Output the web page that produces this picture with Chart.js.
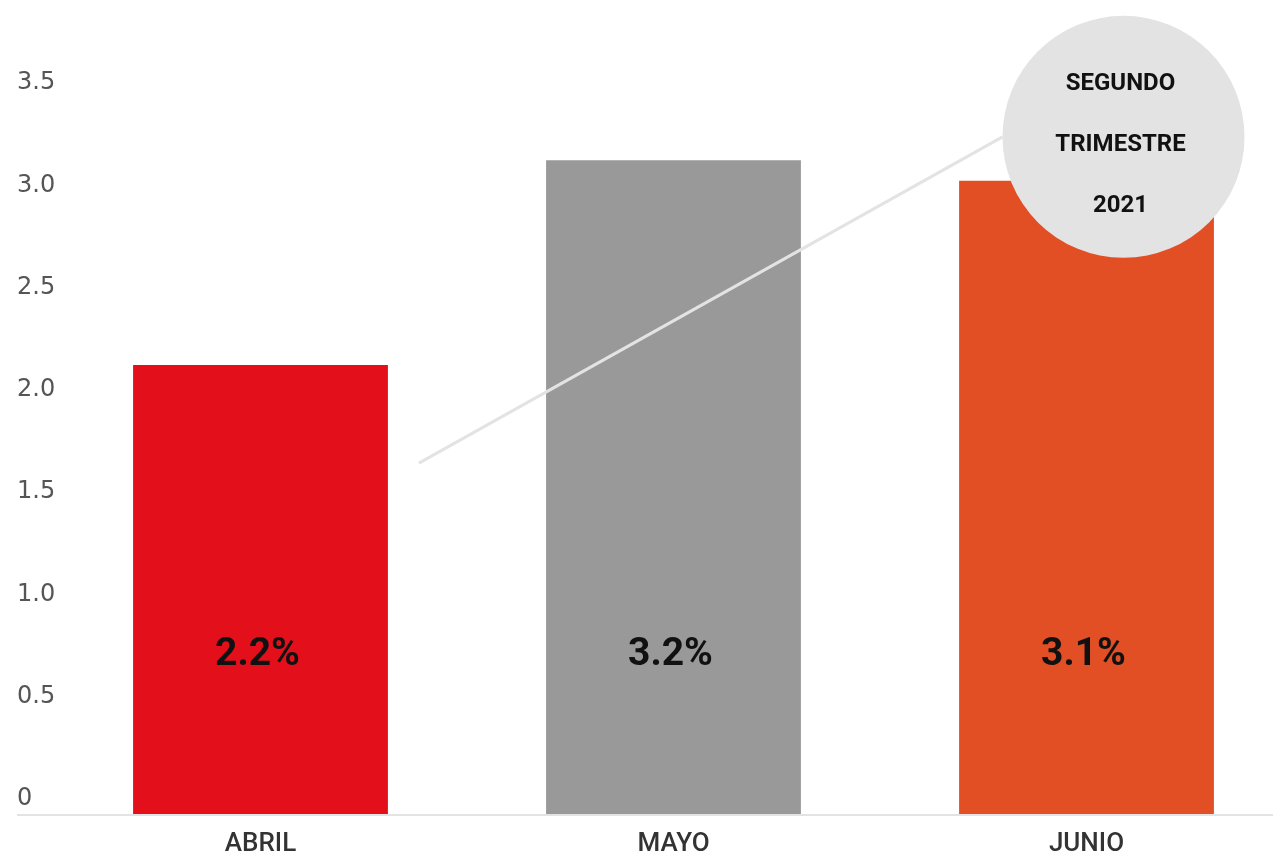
<!DOCTYPE html>
<html lang="es">
<head>
<meta charset="UTF-8">
<title>Segundo trimestre 2021</title>
<script src="https://cdn.jsdelivr.net/npm/chart.js"></script>
<style>
    html, body { margin: 0; padding: 0; background: #fff; overflow: hidden; }
    #caja { width: 1273px; height: 855px; overflow: hidden; }
</style>
</head>
<body>
<div id="caja"><canvas id="grafico" width="1293" height="855"></canvas></div>
<script>
// datos
const meses = ['ABRIL', 'MAYO', 'JUNIO'];
const valores = [2.2, 3.2, 3.1];
const etiquetas = ['2.2%', '3.2%', '3.1%'];
const colores = ['#e3101b', '#999999', '#e34f25'];
const ticksY = [0, 0.5, 1.0, 1.5, 2.0, 2.5, 3.0, 3.5];
const titulo = ['SEGUNDO', 'TRIMESTRE', '2021'];

const gris = '#e3e3e3';

// etiquetas dentro de las barras, linea y circulo del titulo
const decoracion = {
    id: 'decoracion',
    afterDatasetsDraw(chart) {
        const ctx = chart.ctx;
        const y = chart.scales.y;
        const barras = chart.getDatasetMeta(0).data;

        ctx.save();
        ctx.font = 'bold 39px Roboto';
        ctx.fillStyle = '#111';
        ctx.textAlign = 'center';
        ctx.textBaseline = 'middle';
        barras.forEach(function (b, i) {
            ctx.fillText(etiquetas[i], b.x - 3, y.getPixelForValue(0.78));
        });

        // circulo
        const r = 121;
        const cx = barras[2].x + 37;
        const cy = y.getPixelForValue(3.32) + 1;

        ctx.strokeStyle = gris;
        ctx.lineWidth = 3;
        ctx.beginPath();
        ctx.moveTo(barras[0].x + barras[0].width / 2 + 31, y.getPixelForValue(1.72));
        ctx.lineTo(cx - r, cy);
        ctx.stroke();

        ctx.fillStyle = gris;
        ctx.beginPath();
        ctx.arc(cx, cy, r, 0, Math.PI * 2);
        ctx.fill();

        ctx.fillStyle = '#111';
        ctx.font = 'bold 24px Roboto';
        titulo.forEach(function (t, i) {
            ctx.fillText(t, cx - 3, cy - 53 + i * 61);
        });
        ctx.restore();
    }
};

const esCero = c => c.tick && c.tick.value === 0;

new Chart(document.getElementById('grafico'), {
    type: 'bar',
    data: {
        labels: meses,
        datasets: [{
            data: valores,
            backgroundColor: colores,
            borderWidth: 0,
            barPercentage: 0.617,
            categoryPercentage: 1
        }]
    },
    options: {
        responsive: false,
        animation: false,
        layout: { padding: { top: 99, left: 17, right: 0, bottom: 0 } },
        plugins: {
            legend: { display: false },
            tooltip: { enabled: false }
        },
        scales: {
            x: {
                afterFit: s => { s.height = 40; },
                grid: { display: false },
                border: { display: false },
                ticks: {
                    padding: 6,
                    color: '#333',
                    font: { family: 'Roboto', size: 26, weight: '500' }
                }
            },
            y: {
                min: 0,
                max: 3.5,
                afterFit: s => { s.width = 37; },
                afterBuildTicks: s => { s.ticks = ticksY.map(v => ({ value: v })); },
                border: { display: false },
                grid: {
                    color: c => esCero(c) ? gris : 'rgba(0,0,0,0)',
                    tickColor: c => esCero(c) ? gris : 'rgba(0,0,0,0)',
                    lineWidth: 2,
                    drawTicks: true,
                    tickLength: 37
                },
                ticks: {
                    crossAlign: 'far',
                    labelOffset: -16,
                    padding: 0,
                    color: '#555',
                    font: { family: 'DejaVu Sans', size: 24 },
                    callback: v => v === 0 ? '0' : v.toFixed(1)
                }
            }
        }
    },
    plugins: [decoracion]
});
</script>
</body>
</html>
